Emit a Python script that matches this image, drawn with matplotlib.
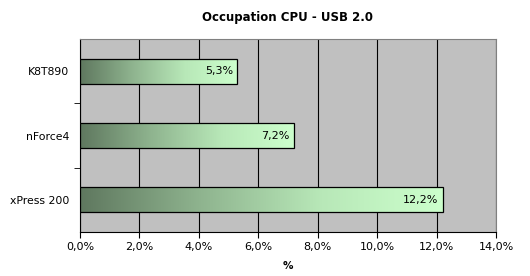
import numpy as np
import matplotlib.pyplot as plt
from matplotlib.colors import LinearSegmentedColormap
from matplotlib.patches import Rectangle

categories = ["K8T890", "nForce4", "xPress 200"]
values = [5.3, 7.2, 12.2]
labels = ["5,3%", "7,2%", "12,2%"]
xticks = [0, 2, 4, 6, 8, 10, 12, 14]
xticklabels = ["0,0%", "2,0%", "4,0%", "6,0%", "8,0%", "10,0%", "12,0%", "14,0%"]

fig = plt.figure(figsize=(5.30, 2.76), dpi=100)
ax = fig.add_axes([80 / 530, 1 - 232 / 276, (496 - 80) / 530, (232 - 39) / 276])
ax.set_facecolor("#c0c0c0")

cmap = LinearSegmentedColormap.from_list(
    "g", ["#5f785f", "#8fb48f", "#b8e8b8", "#ccffcc"])
grad = np.linspace(0, 1, 256).reshape(1, -1)

ax.set_xlim(0, 14)
ax.set_ylim(2.5, -0.5)
ax.set_xticks(xticks)
ax.set_xticklabels(xticklabels, fontsize=8)
ax.set_yticks(range(len(categories)))
ax.set_yticklabels(categories, fontsize=7.8)
ax.set_yticks([0.5, 1.5], minor=True)
ax.tick_params(axis="y", which="major", length=0, pad=8)
ax.tick_params(axis="y", which="minor", length=4, direction="out")
ax.tick_params(axis="x", length=4, direction="out")
ax.grid(axis="x", color="black", linewidth=0.8)
ax.set_axisbelow(True)

h = 0.39
for i, v in enumerate(values):
    ext = [0, v, i + h / 2, i - h / 2]
    im = ax.imshow(grad, cmap=cmap, extent=ext, aspect="auto", zorder=3)
    r = Rectangle((0, i - h / 2), v, h, fill=False, edgecolor="black",
                  linewidth=0.9, zorder=4)
    ax.add_patch(r)
    im.set_clip_path(r)
    ax.text(v - 0.15, i, labels[i], ha="right", va="center", fontsize=8, zorder=5)

ax.set_xlim(0, 14)
ax.set_ylim(2.5, -0.5)

for s in ["top", "right"]:
    ax.spines[s].set_color("#808080")
ax.spines["left"].set_color("black")
ax.spines["bottom"].set_color("black")

ax.set_xlabel("%", fontsize=7.5, fontweight="bold", labelpad=6)
fig.text(0.5 * (80 + 496) / 530, 1 - 18 / 276, "Occupation CPU - USB 2.0",
         ha="center", va="center", fontsize=8.5, fontweight="bold")

fig.savefig("out.png", dpi=100)
